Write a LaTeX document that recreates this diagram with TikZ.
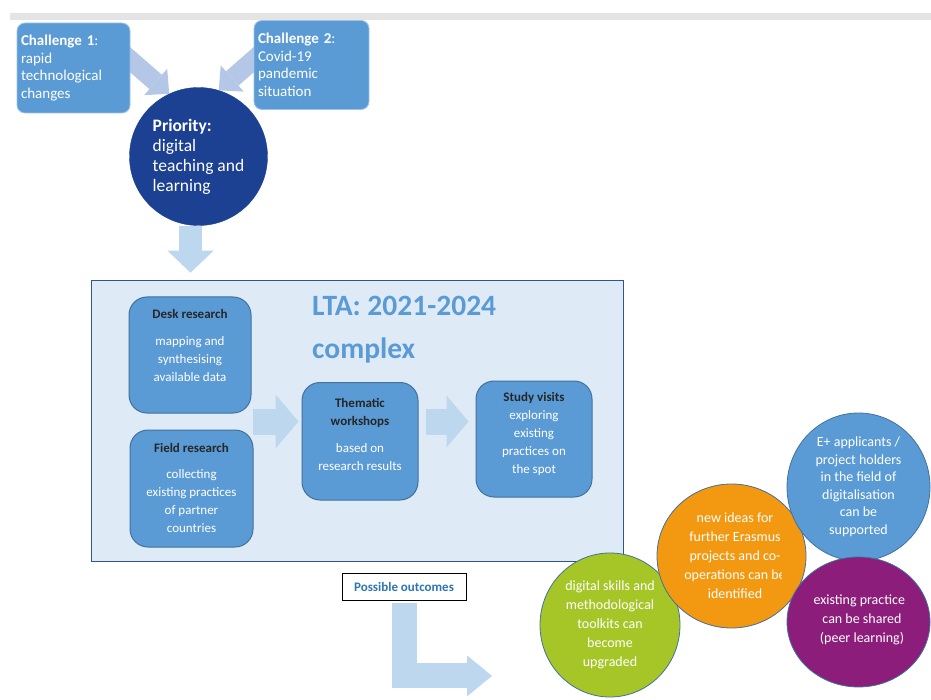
\documentclass[tikz,border=0pt]{standalone}
\usepackage{fontspec}
\setmainfont{Carlito}
\usetikzlibrary{arrows.meta,shapes.geometric,calc,backgrounds}

\definecolor{boxblue}{RGB}{91,155,213}
\definecolor{boxedge}{RGB}{65,113,156}
\definecolor{chedge}{RGB}{157,195,230}
\definecolor{prioblue}{RGB}{28,65,146}
\definecolor{arrowpale}{RGB}{189,215,238}
\definecolor{arrowtop}{RGB}{180,199,231}
\definecolor{ltafill}{RGB}{222,235,247}
\definecolor{ltaedge}{RGB}{47,85,151}
\definecolor{headgrey}{RGB}{38,38,38}
\definecolor{outcblue}{RGB}{46,117,182}
\definecolor{skillgreen}{RGB}{166,198,40}
\definecolor{ideaorange}{RGB}{243,152,17}
\definecolor{peerpurple}{RGB}{140,29,123}
\definecolor{bargrey}{RGB}{228,228,228}

\tikzset{
  challenge/.style={rectangle, rounded corners=8pt, fill=boxblue, draw=chedge, line width=0.8pt,
    text=white, align=left, inner xsep=4pt, font=\fontsize{15}{17.5}\selectfont},
  stepbox/.style={rectangle, rounded corners=18pt, fill=boxblue, draw=boxedge, line width=1pt,
    text=white, align=center, inner xsep=2pt, inner ysep=0pt,
    font=\fontsize{13}{18}\selectfont},
  bubble/.style={ellipse, draw=boxedge, line width=0.8pt, inner sep=0pt},
  bubbletext/.style={text=white, align=center, inner sep=0pt, font=\fontsize{14}{19}\selectfont},
  fatarrow/.style n args={4}{draw=#1, line width=#2, -{Triangle[length=#3, width=#4, line width=0pt]}}
}

\newcommand{\boxhead}[1]{\textcolor{headgrey}{\textbf{#1}}}

\begin{document}
\begin{tikzpicture}[x=1pt,y=-1pt]
\useasboundingbox (0,0) rectangle (931,700);

%Shape: grey bar at the top
\fill[bargrey] (10,13) rectangle (931,20);

%Shape: challenge boxes
\node[challenge, text width=105pt, minimum height=90pt] (ch1) at (73.5,68) {\textbf{Challenge 1}:\\rapid\\technological\\changes};
\node[challenge, text width=107pt, minimum height=89pt] (ch2) at (311.5,65) {\textbf{Challenge 2}:\\Covid-19\\pandemic\\situation};

%Shape: priority circle
\node[circle, fill=prioblue, draw=prioblue, minimum size=138pt, inner sep=0pt, text=white, align=left,
  font=\fontsize{17.5}{20}\selectfont] (prio) at (198.5,156.5) {\textbf{Priority:}\\digital\\teaching and\\learning};

%Block arrows into and out of the priority
\begin{scope}[on background layer]
\draw[fatarrow={arrowtop}{19pt}{18pt}{35pt}] ($(ch1.east)+(-8,-15)$) -- (prio.115);
\draw[fatarrow={arrowtop}{19pt}{18pt}{35pt}] ($(ch2.west)+(10,-14)$) -- (prio.73);
\end{scope}
\draw[fatarrow={arrowpale}{23pt}{22pt}{46pt}] ($(prio.south)+(-8,0)$) -- ++(0,47);

%Shape: LTA frame
\node[rectangle, fill=ltafill, draw=ltaedge, line width=0.8pt, minimum width=532pt, minimum height=281pt, inner sep=0pt] (lta) at (357,420.5) {};
% Text Node
\node[anchor=north west, inner sep=0pt, text=boxblue, align=left, font=\fontsize{29.5}{43}\selectfont\bfseries] (ltaname) at (312,296) {LTA: 2021-2024\\complex};

%Shape: activity boxes (text height = box top to last baseline)
\node[stepbox, minimum width=122pt, text height=84.5pt, text depth=31.5pt] (desk) at (190,355) {\boxhead{Desk research}\\[9pt]mapping and\\synthesising\\available data};
\node[stepbox, minimum width=123pt, text height=102.5pt, text depth=14.5pt] (field) at (191.5,488.5) {\boxhead{Field research}\\[8pt]collecting\\existing practices\\of partner\\countries};
\node[stepbox, minimum width=116pt, text height=88pt, text depth=29.5pt] (thematic) at (360,441.25) {\boxhead{Thematic}\\\boxhead{workshops}\\[9pt]based on\\research results};
\node[stepbox, minimum width=116pt, text height=92.5pt, text depth=23.5pt] (study) at (534,439) {\boxhead{Study visits}\\exploring\\existing\\practices on\\the spot};

%Block arrows between the steps
\coordinate (join) at ($(desk.south east)!0.5!(field.north east)$);
\draw[fatarrow={arrowpale}{26pt}{23pt}{54pt}, shorten >=3pt] (join) -- (join -| thematic.west);
\draw[fatarrow={arrowpale}{26pt}{22pt}{52pt}, shorten <=7pt, shorten >=7pt] (join -| thematic.east) -- (join -| study.west);

% Text Node
\node[draw=black, line width=0.8pt, fill=white, minimum width=124pt, minimum height=27pt, text=outcblue,
  font=\fontsize{13}{15}\selectfont\bfseries] (outc) at (404,586.5) {Possible outcomes};
\draw[fatarrow={arrowpale}{25pt}{25pt}{41pt}, line join=miter] ($(outc.south)+(0,3)$) |- ++(88,72.5);

%Shape: outcome bubbles
\node[bubble, fill=skillgreen, minimum width=140pt, minimum height=144pt, bubbletext] (skills) at (610,625) {digital skills and\\methodological\\toolkits can\\become\\upgraded};
\node[bubble, fill=ideaorange, minimum width=149pt, minimum height=144pt] (ideas) at (731.5,556) {};
\begin{scope}
\clip (650,480) rectangle (781,630);
\node[bubbletext] (ideastext) at (735,556) {new ideas for\\further Erasmus\\projects and co-\\operations can be\\identified};
\end{scope}
\node[bubble, fill=boxblue, minimum width=143pt, minimum height=148pt, bubbletext, font=\fontsize{14}{17.5}\selectfont] (support) at (858.5,487) {E+ applicants /\\project holders\\in the field of\\digitalisation\\can be\\supported};
\node[bubble, fill=peerpurple, minimum width=143pt, minimum height=130pt] (peer) at (858.5,622) {};
\begin{scope}
\clip (780,550) rectangle (904,690);
\node[bubbletext] (peertext) at (862,620) {existing practices\\can be shared\\(peer learning)};
\end{scope}

\end{tikzpicture}
\end{document}
